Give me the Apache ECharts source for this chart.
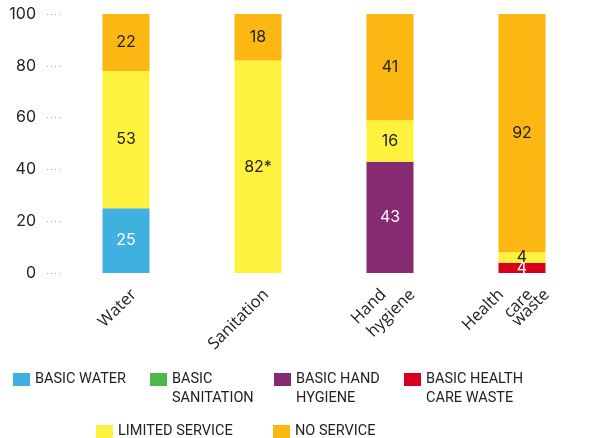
<!DOCTYPE html>
<html><head><meta charset="utf-8">
<script src="https://cdn.jsdelivr.net/npm/echarts@6/dist/echarts.min.js"></script>
<style>html,body{margin:0;padding:0;background:#fff}#c{width:611px;height:438px}</style>
</head><body><div id="c"></div>
<script>
var categories = ['Water', 'Sanitation', 'Hand\nhygiene', 'Health\ncare\nwaste'];
var basicWater = [25, 0, 0, 0];
var basicSanitation = [0, 0, 0, 0];
var basicHandHygiene = [0, 0, 43, 0];
var basicHealthCareWaste = [0, 0, 0, 4];
var limitedService = [53, 82, 16, 4];
var noService = [22, 18, 41, 92];
var limitedLabels = ['53', '82*', '16', '4'];
var yTicks = [0, 20, 40, 60, 80, 100];

var FONT = 'Inter';
var AXFONT = 'Open Sans';
var LGFONT = 'Roboto';
var colors = {
  'BASIC WATER': '#40B0E0',
  'BASIC SANITATION': '#4DB849',
  'BASIC HAND HYGIENE': '#862A72',
  'BASIC HEALTH CARE WASTE': '#D6001C',
  'LIMITED SERVICE': '#FFF23F',
  'NO SERVICE': '#FDB713'
};
var legendText = {
  'BASIC WATER': 'BASIC WATER',
  'BASIC SANITATION': ' \nBASIC\nSANITATION',
  'BASIC HAND HYGIENE': ' \nBASIC HAND\nHYGIENE',
  'BASIC HEALTH CARE WASTE': ' \nBASIC HEALTH\nCARE WASTE',
  'LIMITED SERVICE': 'LIMITED SERVICE',
  'NO SERVICE': 'NO SERVICE'
};

function mkSeries(name, data, labelColor, labels) {
  return {
    name: name, type: 'bar', stack: 'all', data: data, barWidth: 47,
    itemStyle: { color: colors[name] },
    label: {
      show: true, position: 'inside', color: labelColor,
      fontFamily: FONT, fontSize: 16,
      formatter: function (p) { if (!p.value) return ''; return labels ? labels[p.dataIndex] : String(p.value); }
    }
  };
}

function mkLegend(name, left, top) {
  return {
    data: [name], left: left, top: top, itemWidth: 17, itemHeight: 13, itemGap: 0,
    padding: 0, icon: 'rect', selectedMode: false,
    formatter: function (n) { return legendText[n]; },
    textStyle: { fontFamily: LGFONT, fontSize: 14.5, color: '#222', lineHeight: 19 }
  };
}

// x-axis label lines: each line of a category goes on its own label axis,
// shifted sideways by a slot so that the rotated lines sit side by side.
var slots = [-2, -1, 0, 1, 2];
var grids = [{ left: 60, right: 23, top: 14, bottom: 165 }];
var xAxes = [{
  type: 'category', data: categories, gridIndex: 0,
  axisLine: { show: false }, axisTick: { show: false }, axisLabel: { show: false }
}];
var yAxes = [{
  type: 'value', min: 0, max: 100, interval: 20, gridIndex: 0,
  axisLine: { show: false }, splitLine: { show: false },
  axisTick: { show: true, inside: false, length: 16, lineStyle: { color: '#aaa', type: [1, 3], width: 1 } },
  axisLabel: { margin: 24, color: '#222', fontFamily: FONT, fontSize: 16,
    formatter: function (v) { return yTicks.indexOf(v) >= 0 ? String(v) : ''; } }
}];
slots.forEach(function (k, si) {
  grids.push({ left: 60 + 8 + 14.5 * k, width: 528, top: 14, bottom: 165 });
  xAxes.push({
    type: 'category', data: categories, gridIndex: si + 1,
    axisLine: { show: false }, axisTick: { show: false },
    axisLabel: {
      rotate: 45, margin: 19, color: '#222', fontFamily: AXFONT, fontSize: 16.5,
      interval: 0,
      formatter: function (v) {
        var lines = v.split('\n'); var n = lines.length;
        var i = (k + n - 1) / 2;
        if (i !== Math.floor(i) || i < 0 || i >= n) return '';
        return lines[i];
      }
    }
  });
  yAxes.push({ type: 'value', min: 0, max: 100, gridIndex: si + 1, show: false });
});

var chart = echarts.init(document.getElementById('c'));
chart.setOption({
  animation: false,
  grid: grids,
  xAxis: xAxes,
  yAxis: yAxes,
  legend: [
    mkLegend('BASIC WATER', 13, 370),
    mkLegend('BASIC SANITATION', 150, 351),
    mkLegend('BASIC HAND HYGIENE', 274, 351),
    mkLegend('BASIC HEALTH CARE WASTE', 404, 351),
    mkLegend('LIMITED SERVICE', 96, 422),
    mkLegend('NO SERVICE', 273, 422)
  ],
  series: [
    mkSeries('BASIC WATER', basicWater, '#fff'),
    mkSeries('BASIC SANITATION', basicSanitation, '#fff'),
    mkSeries('BASIC HAND HYGIENE', basicHandHygiene, '#fff'),
    mkSeries('BASIC HEALTH CARE WASTE', basicHealthCareWaste, '#fff'),
    mkSeries('LIMITED SERVICE', limitedService, '#222', limitedLabels),
    mkSeries('NO SERVICE', noService, '#222')
  ]
});
</script></body></html>
